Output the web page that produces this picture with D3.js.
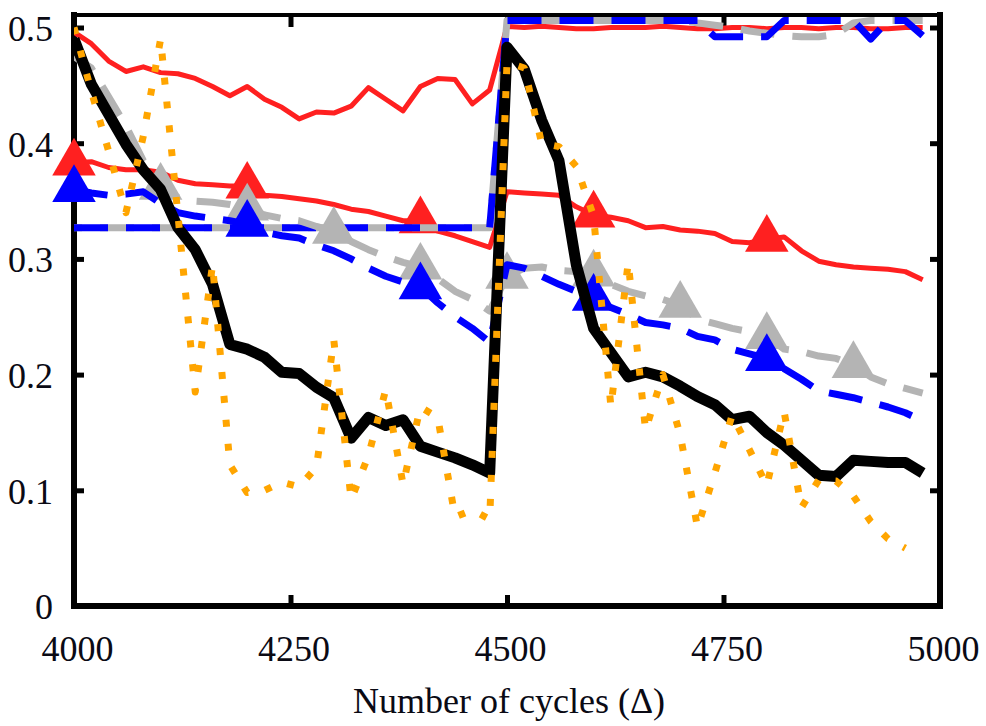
<!DOCTYPE html>
<html lang="en">
<head>
<meta charset="utf-8">
<title>Number of cycles</title>
<style>
  body { margin: 0; background: #fff; }
  svg { display: block; }
  .series { fill: none; stroke-linejoin: round; }
</style>
</head>
<body>
<script src="https://d3js.org/d3.v7.min.js"></script>
<script>
  // sampling grid (every 20 cycles)
  const cycles = [4000, 4020, 4040, 4060, 4080, 4100, 4120, 4140, 4160, 4180,
    4200, 4220, 4240, 4260, 4280, 4300, 4320, 4340, 4360, 4380,
    4400, 4420, 4440, 4460, 4480, 4500, 4520, 4540, 4560, 4580,
    4600, 4620, 4640, 4660, 4680, 4700, 4720, 4740, 4760, 4780,
    4800, 4820, 4840, 4860, 4880, 4900, 4920, 4940, 4960, 4980];

  const redUpper = [0.496, 0.486, 0.471, 0.462, 0.466, 0.461, 0.460, 0.456, 0.449, 0.441,
    0.449, 0.438, 0.431, 0.421, 0.427, 0.426, 0.432, 0.448, 0.438, 0.428,
    0.449, 0.456, 0.455, 0.434, 0.446, 0.501, 0.500, 0.501, 0.500, 0.499,
    0.499, 0.500, 0.500, 0.500, 0.501, 0.500, 0.499, 0.499, 0.500, 0.500,
    0.499, 0.500, 0.500, 0.499, 0.500, 0.500, 0.499, 0.499, 0.500, 0.500];

  const redLower = [0.383, 0.384, 0.379, 0.377, 0.377, 0.375, 0.368, 0.365, 0.364, 0.363,
    0.363, 0.355, 0.354, 0.352, 0.350, 0.347, 0.343, 0.341, 0.337, 0.333,
    0.333, 0.324, 0.320, 0.315, 0.310, 0.358, 0.357, 0.356, 0.355, 0.345,
    0.338, 0.336, 0.333, 0.327, 0.328, 0.325, 0.324, 0.322, 0.315, 0.314,
    0.317, 0.319, 0.307, 0.298, 0.295, 0.293, 0.292, 0.291, 0.289, 0.282];

  const blueUpper = [0.327, 0.327, 0.327, 0.327, 0.327, 0.327, 0.327, 0.327, 0.327, 0.327,
    0.327, 0.327, 0.327, 0.327, 0.327, 0.327, 0.327, 0.327, 0.327, 0.327,
    0.327, 0.327, 0.327, 0.327, 0.327, 0.506, 0.506, 0.506, 0.506, 0.506,
    0.506, 0.506, 0.506, 0.506, 0.506, 0.506, 0.506, 0.492, 0.492, 0.492,
    0.492, 0.506, 0.506, 0.506, 0.506, 0.506, 0.490, 0.506, 0.506, 0.493];

  const grayUpper = [0.327, 0.327, 0.327, 0.327, 0.327, 0.327, 0.327, 0.327, 0.327, 0.327,
    0.327, 0.327, 0.327, 0.327, 0.327, 0.327, 0.327, 0.327, 0.327, 0.327,
    0.327, 0.327, 0.327, 0.327, 0.327, 0.506, 0.506, 0.506, 0.506, 0.506,
    0.506, 0.506, 0.506, 0.506, 0.506, 0.506, 0.504, 0.502, 0.500, 0.497,
    0.495, 0.493, 0.492, 0.492, 0.494, 0.504, 0.506, 0.506, 0.506, 0.506];

  const blueLower = [0.360, 0.357, 0.355, 0.356, 0.358, 0.348, 0.340, 0.337, 0.335, 0.333,
    0.330, 0.323, 0.320, 0.318, 0.312, 0.307, 0.300, 0.292, 0.285, 0.280,
    0.276, 0.262, 0.250, 0.240, 0.228, 0.295, 0.292, 0.285, 0.278, 0.272,
    0.266, 0.258, 0.252, 0.245, 0.243, 0.240, 0.233, 0.230, 0.222, 0.218,
    0.214, 0.205, 0.196, 0.186, 0.183, 0.180, 0.176, 0.172, 0.167, 0.160];

  const grayLower = [0.475, 0.465, 0.440, 0.415, 0.385, 0.362, 0.353, 0.350, 0.349, 0.347,
    0.344, 0.338, 0.335, 0.333, 0.328, 0.324, 0.315, 0.308, 0.302, 0.297,
    0.293, 0.283, 0.272, 0.265, 0.255, 0.285, 0.292, 0.293, 0.290, 0.289,
    0.287, 0.278, 0.272, 0.268, 0.265, 0.260, 0.248, 0.244, 0.240, 0.237,
    0.233, 0.222, 0.220, 0.216, 0.214, 0.208, 0.198, 0.192, 0.188, 0.184];

  const blackLine = [0.490, 0.451, 0.425, 0.399, 0.377, 0.360, 0.327, 0.308, 0.278, 0.226,
    0.222, 0.215, 0.202, 0.201, 0.189, 0.180, 0.145, 0.163, 0.156, 0.161,
    0.138, 0.133, 0.128, 0.122, 0.115, 0.483, 0.464, 0.420, 0.385, 0.295,
    0.240, 0.219, 0.198, 0.202, 0.198, 0.190, 0.181, 0.174, 0.161, 0.164,
    0.150, 0.139, 0.126, 0.113, 0.112, 0.126, 0.125, 0.124, 0.124, 0.115];

  // orange dotted series stops at 4960
  const orangeLine = [0.500, 0.445, 0.393, 0.340, 0.406, 0.490, 0.338, 0.185, 0.295, 0.122,
    0.098, 0.100, 0.107, 0.103, 0.120, 0.230, 0.092, 0.130, 0.187, 0.105,
    0.172, 0.163, 0.077, 0.083, 0.075, 0.470, 0.465, 0.400, 0.397, 0.380,
    0.337, 0.172, 0.297, 0.152, 0.200, 0.148, 0.068, 0.115, 0.165, 0.135,
    0.104, 0.168, 0.085, 0.109, 0.108, 0.095, 0.073, 0.058, 0.050];

  const redMarks = [4000, 4200, 4400, 4600, 4800];
  const blueMarks = [4000, 4200, 4400, 4600, 4800];
  const grayMarks = [4100, 4200, 4300, 4400, 4500, 4600, 4700, 4800, 4900];

  const xTicks = [4000, 4250, 4500, 4750, 5000];
  const xTickLabels = ["4000", "4250", "4500", "4750", "5000"];
  const yTicks = [0, 0.1, 0.2, 0.3, 0.4, 0.5];
  const yTickLabels = ["0", "0.1", "0.2", "0.3", "0.4", "0.5"];

  const W = 986, H = 726;
  const plotL = 74, plotR = 940, plotT = 15, plotB = 606;
  const serif = '"Liberation Serif", "Times New Roman", serif';

  const x = d3.scaleLinear().domain([4000, 5000]).range([plotL, plotR]);
  const y = d3.scaleLinear().domain([0, 0.5]).range([plotB, 27.5]);

  const svg = d3.select("body").append("svg")
    .attr("width", W)
    .attr("height", H);

  svg.append("rect").attr("width", W).attr("height", H).attr("fill", "#fff");

  svg.append("defs").append("clipPath").attr("id", "plot")
    .append("rect")
    .attr("x", plotL).attr("y", plotT)
    .attr("width", plotR - plotL).attr("height", plotB - plotT);

  // axes with inward ticks
  const fmtX = d => xTickLabels[xTicks.indexOf(d)];
  const fmtY = d => yTickLabels[yTicks.indexOf(d)];

  const gx = svg.append("g").attr("class", "axis")
    .attr("transform", `translate(0,${plotB})`)
    .call(d3.axisBottom(x).tickValues(xTicks).tickFormat(fmtX).tickSize(-11).tickPadding(29));
  gx.selectAll("text").attr("x", 3);

  svg.append("g").attr("class", "axis")
    .attr("transform", `translate(0,${plotT})`)
    .call(d3.axisTop(x).tickValues(xTicks.slice(1, -1)).tickFormat("").tickSize(-12));

  const gy = svg.append("g").attr("class", "axis")
    .attr("transform", `translate(${plotL},0)`)
    .call(d3.axisLeft(y).tickValues(yTicks).tickFormat(fmtY).tickSize(-10).tickPadding(21));
  gy.selectAll("text").attr("dy", "0.36em");

  svg.append("g").attr("class", "axis")
    .attr("transform", `translate(${plotR},0)`)
    .call(d3.axisRight(y).tickValues(yTicks.slice(1)).tickFormat("").tickSize(-10));

  svg.selectAll(".axis .domain").remove();
  svg.selectAll(".axis .tick line").attr("stroke", "#000").attr("stroke-width", 5);
  svg.selectAll(".axis")
    .attr("font-family", serif)
    .attr("font-size", 36);
  svg.selectAll(".axis text")
    .style("font-family", serif)
    .style("font-size", "36px")
    .attr("fill", "#0a0a14");

  // frame
  const frame = svg.append("g").attr("stroke", "#000").attr("stroke-linecap", "square");
  frame.append("line").attr("x1", plotL).attr("x2", plotR).attr("y1", plotT).attr("y2", plotT).attr("stroke-width", 4);
  frame.append("line").attr("x1", plotL).attr("x2", plotR).attr("y1", plotB).attr("y2", plotB).attr("stroke-width", 6);
  frame.append("line").attr("x1", plotL).attr("x2", plotL).attr("y1", plotT).attr("y2", plotB).attr("stroke-width", 6);
  frame.append("line").attr("x1", plotR).attr("x2", plotR).attr("y1", plotT).attr("y2", plotB).attr("stroke-width", 6);

  svg.append("text")
    .attr("x", 509).attr("y", 713)
    .attr("text-anchor", "middle")
    .style("font-family", serif)
    .style("font-size", "36px")
    .attr("fill", "#0a0a14")
    .text("Number of cycles (\u0394)");

  const line = d3.line()
    .x((d, i) => x(cycles[i]))
    .y(d => y(d));

  const tri = d3.symbol().type(d3.symbolTriangle).size(820);

  const series = [
    {values: redUpper, color: "#ff2020", width: 5},
    {values: redLower, color: "#ff2020", width: 5, marks: redMarks},
    {values: grayUpper, color: "#b4b4b4", width: 7, dash: "34,18", offset: 26},
    {values: blueUpper, color: "#0000ff", width: 7, dash: "34,18", offset: 0},
    {values: grayLower, color: "#b4b4b4", width: 7, dash: "34,18", offset: 10, marks: grayMarks},
    {values: blueLower, color: "#0000ff", width: 7, dash: "34,18", offset: 0, marks: blueMarks},
    {values: blackLine, color: "#000000", width: 11},
    {values: orangeLine, color: "#ffa500", width: 7, dash: "7,17", offset: 0}
  ];

  series.forEach(s => {
    svg.append("path")
      .attr("class", "series")
      .attr("clip-path", "url(#plot)")
      .attr("d", line(s.values))
      .attr("stroke", s.color)
      .attr("stroke-width", s.width)
      .attr("stroke-dasharray", s.dash || null)
      .attr("stroke-dashoffset", s.offset || null)
      .attr("stroke-linecap", "butt");

    if (s.marks) {
      svg.append("g").selectAll("path")
        .data(s.marks)
        .join("path")
        .attr("d", tri)
        .attr("transform", c => `translate(${x(c)},${y(s.values[cycles.indexOf(c)])})`)
        .attr("fill", s.color);
    }
  });
</script>
</body>
</html>
